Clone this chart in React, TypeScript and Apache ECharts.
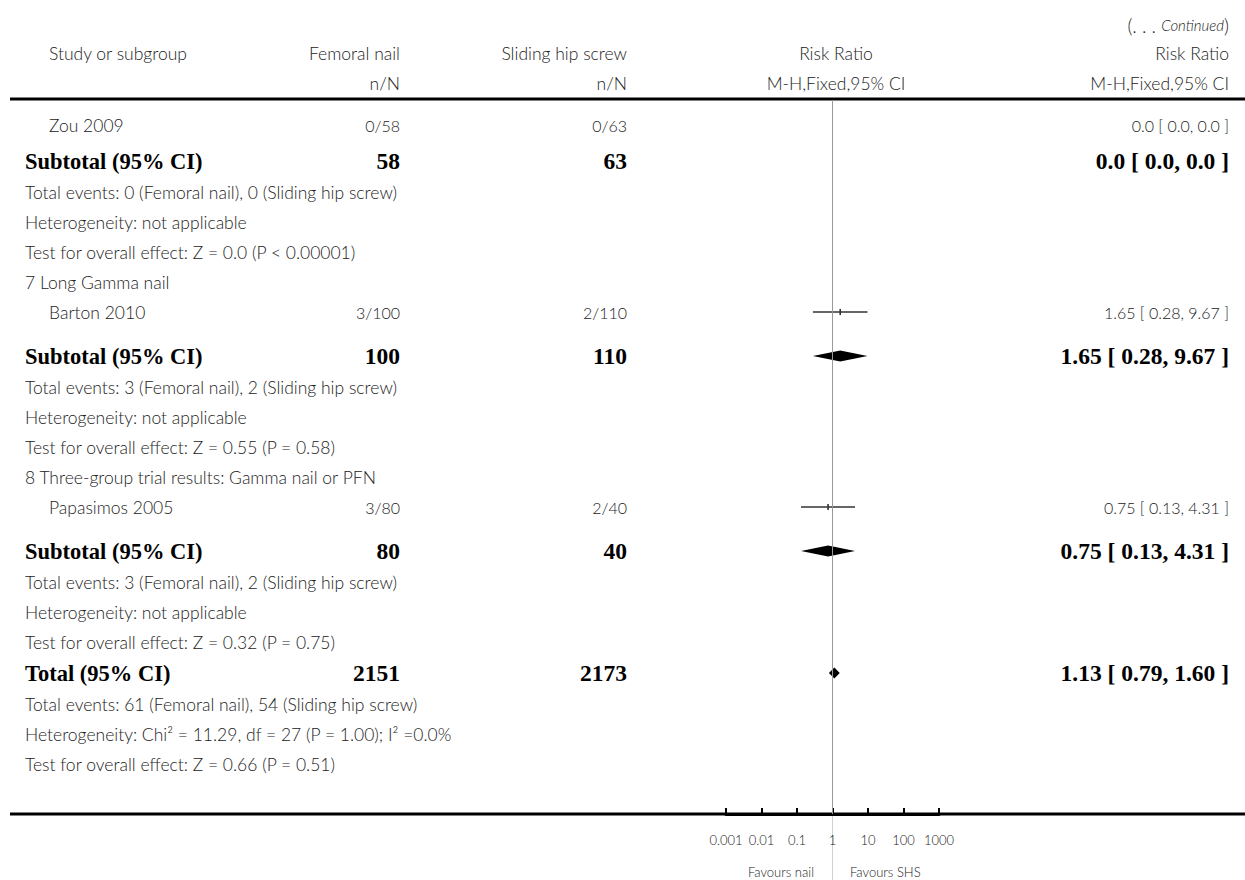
import React, { useEffect, useRef } from "react";
import * as echarts from "echarts";

// ---------- data ----------
const headerTop = ["Study or subgroup", "Femoral nail", "Sliding hip screw", "Risk Ratio", "Risk Ratio"];
const headerSub = ["", "n/N", "n/N", "M-H,Fixed,95% CI", "M-H,Fixed,95% CI"];
const continuedWord = "Continued";

const rowKinds = [
  "study", "subtotal", "info", "info", "info",
  "group", "study", "subtotal", "info", "info", "info",
  "group", "study", "subtotal", "info", "info", "info",
  "total", "info", "info", "info",
];
const rowLabels = [
  "Zou 2009",
  "Subtotal (95% CI)",
  "Total events: 0 (Femoral nail), 0 (Sliding hip screw)",
  "Heterogeneity: not applicable",
  "Test for overall effect: Z = 0.0 (P < 0.00001)",
  "7 Long Gamma nail",
  "Barton 2010",
  "Subtotal (95% CI)",
  "Total events: 3 (Femoral nail), 2 (Sliding hip screw)",
  "Heterogeneity: not applicable",
  "Test for overall effect: Z = 0.55 (P = 0.58)",
  "8 Three-group trial results: Gamma nail or PFN",
  "Papasimos 2005",
  "Subtotal (95% CI)",
  "Total events: 3 (Femoral nail), 2 (Sliding hip screw)",
  "Heterogeneity: not applicable",
  "Test for overall effect: Z = 0.32 (P = 0.75)",
  "Total (95% CI)",
  "Total events: 61 (Femoral nail), 54 (Sliding hip screw)",
  "Heterogeneity: Chi² = 11.29, df = 27 (P = 1.00); I² =0.0%",
  "Test for overall effect: Z = 0.66 (P = 0.51)",
];
const rowNail = ["0/58", "58", "", "", "", "", "3/100", "100", "", "", "", "", "3/80", "80", "", "", "", "2151", "", "", ""];
const rowShs = ["0/63", "63", "", "", "", "", "2/110", "110", "", "", "", "", "2/40", "40", "", "", "", "2173", "", "", ""];
const rowResult = [
  "0.0 [ 0.0, 0.0 ]", "0.0 [ 0.0, 0.0 ]", "", "", "",
  "", "1.65 [ 0.28, 9.67 ]", "1.65 [ 0.28, 9.67 ]", "", "", "",
  "", "0.75 [ 0.13, 4.31 ]", "0.75 [ 0.13, 4.31 ]", "", "", "",
  "1.13 [ 0.79, 1.60 ]", "", "", "",
];
// plotted estimates (null = not estimable / not plotted)
const rowRR: (number | null)[] = [null, null, null, null, null, null, 1.65, 1.65, null, null, null, null, 0.75, 0.75, null, null, null, 1.13, null, null, null];
const rowLo: (number | null)[] = [null, null, null, null, null, null, 0.28, 0.28, null, null, null, null, 0.13, 0.13, null, null, null, 0.79, null, null, null];
const rowHi: (number | null)[] = [null, null, null, null, null, null, 9.67, 9.67, null, null, null, null, 4.31, 4.31, null, null, null, 1.60, null, null, null];

const tickLabels = ["0.001", "0.01", "0.1", "1", "10", "100", "1000"];
const favoursLeft = "Favours nail";
const favoursRight = "Favours SHS";

// ---------- layout ----------
const W = 1245;
const H = 880;
const SANS = "Lato, 'Noto Sans', sans-serif";
const SERIF = "'Liberation Serif', 'DejaVu Serif', serif";
const X_LABEL = 25;
const X_INDENT = 49;
const X_NAIL = 400;
const X_SHS = 627;
const X_MID = 836;
const X_RES = 1229;
const AXIS_Y = 814;
const TOP_Y = 100;
const PLOT_L = 726;
const PLOT_R = 939;
const FS_TEXT = 17.5;
const FS_NUM = 16;
const FS_BOLD_LABEL = 22.5;
const FS_BOLD_NUM = 23.5;

function rowPositions(): number[] {
  const ys: number[] = [];
  let y = 125;
  for (let i = 0; i < rowKinds.length; i++) {
    const k = rowKinds[i];
    const prev = i > 0 ? rowKinds[i - 1] : "";
    if (i > 0) {
      let gap = 30;
      if (k === "subtotal") gap = rowRR[i - 1] != null ? 44 : 36;
      else if (k === "info" && (prev === "subtotal" || prev === "total")) gap = 31;
      else if (k === "total") gap = 31;
      y += gap;
    }
    ys.push(y);
  }
  return ys;
}

function normalText(text: string, x: number, y: number, align: string, size = FS_TEXT) {
  return {
    type: "text",
    x,
    y,
    silent: true,
    style: {
      text,
      fill: "#222",
      fontFamily: SANS,
      fontWeight: 300,
      fontSize: size,
      align,
      verticalAlign: "middle",
    },
  };
}
function boldText(text: string, x: number, y: number, align: string, size: number) {
  return {
    type: "text",
    x,
    y,
    silent: true,
    style: {
      text,
      fill: "#000",
      fontFamily: SERIF,
      fontWeight: "bold",
      fontSize: size,
      align,
      verticalAlign: "middle",
    },
  };
}

function buildOption() {
  const ys = rowPositions();
  const graphics: any[] = [];

  // continued note
  graphics.push({
    type: "text",
    x: X_RES,
    y: 25,
    silent: true,
    style: {
      text: "{a|(. . . }{i|" + continuedWord + "}{a|)}",
      align: "right",
      verticalAlign: "middle",
      rich: {
        a: { fontFamily: SANS, fontSize: 19, fontWeight: 300, fill: "#222" },
        i: { fontFamily: SANS, fontSize: 15, fontStyle: "italic", fontWeight: 300, fill: "#222" },
      },
    },
  });

  // headers
  const hy1 = 53;
  const hy2 = 83;
  graphics.push(normalText(headerTop[0], X_INDENT, hy1, "left"));
  graphics.push(normalText(headerTop[1], X_NAIL, hy1, "right"));
  graphics.push(normalText(headerTop[2], X_SHS, hy1, "right"));
  graphics.push(normalText(headerTop[3], X_MID, hy1, "center"));
  graphics.push(normalText(headerTop[4], X_RES, hy1, "right"));
  graphics.push(normalText(headerSub[1], X_NAIL, hy2, "right"));
  graphics.push(normalText(headerSub[2], X_SHS, hy2, "right"));
  graphics.push(normalText(headerSub[3], X_MID, hy2, "center"));
  graphics.push(normalText(headerSub[4], X_RES, hy2, "right"));

  // rules
  graphics.push({
    type: "line",
    silent: true,
    shape: { x1: 10, y1: 99, x2: W, y2: 99 },
    style: { stroke: "#000", lineWidth: 3 },
  });
  graphics.push({
    type: "line",
    silent: true,
    shape: { x1: 10, y1: AXIS_Y, x2: W, y2: AXIS_Y },
    style: { stroke: "#000", lineWidth: 3 },
  });
  graphics.push({
    type: "line",
    silent: true,
    shape: { x1: 832.5, y1: AXIS_Y + 2, x2: 832.5, y2: H },
    style: { stroke: "#d0d0d0", lineWidth: 1 },
  });
  graphics.push(normalText(favoursLeft, 814, 872, "right", 13));
  graphics.push(normalText(favoursRight, 850, 872, "left", 13));

  // rows
  rowKinds.forEach((k, i) => {
    const y = ys[i];
    if (k === "subtotal" || k === "total") {
      graphics.push(boldText(rowLabels[i], X_LABEL, y, "left", FS_BOLD_LABEL));
      graphics.push(boldText(rowNail[i], X_NAIL, y, "right", FS_BOLD_NUM));
      graphics.push(boldText(rowShs[i], X_SHS, y, "right", FS_BOLD_NUM));
      graphics.push(boldText(rowResult[i], X_RES, y, "right", FS_BOLD_NUM));
    } else if (k === "study") {
      graphics.push(normalText(rowLabels[i], X_INDENT, y, "left"));
      graphics.push(normalText(rowNail[i], X_NAIL, y, "right", FS_NUM));
      graphics.push(normalText(rowShs[i], X_SHS, y, "right", FS_NUM));
      graphics.push(normalText(rowResult[i], X_RES, y, "right", FS_NUM));
    } else {
      graphics.push(normalText(rowLabels[i], X_LABEL, y, "left"));
    }
  });

  // plotted marks data: [log rr, y, log lo, log hi, kind(0 study, 1 diamond)]
  const marks: number[][] = [];
  rowKinds.forEach((k, i) => {
    const rr = rowRR[i];
    const lo = rowLo[i];
    const hi = rowHi[i];
    if (rr == null || lo == null || hi == null) return;
    marks.push([Math.log10(rr), ys[i], Math.log10(lo), Math.log10(hi), k === "study" ? 0 : 1]);
  });

  return {
    animation: false,
    backgroundColor: "#fff",
    grid: {
      left: PLOT_L,
      right: W - PLOT_R,
      top: TOP_Y,
      bottom: H - AXIS_Y,
      containLabel: false,
      outerBoundsMode: "none",
    },
    xAxis: {
      type: "value",
      min: -3,
      max: 3,
      interval: 1,
      axisLine: { show: true, lineStyle: { color: "#000", width: 3 } },
      axisTick: { show: true, inside: true, length: 6, lineStyle: { color: "#000", width: 2 } },
      splitLine: { show: false },
      axisLabel: {
        show: true,
        margin: 19,
        color: "#222",
        fontFamily: SANS,
        fontWeight: 300,
        fontSize: 13,
        formatter: (v: number) => tickLabels[Math.round(v) + 3] ?? "",
      },
    },
    yAxis: {
      type: "value",
      min: TOP_Y,
      max: AXIS_Y,
      inverse: true,
      show: false,
    },
    series: [
      {
        type: "custom",
        clip: false,
        silent: true,
        data: marks,
        renderItem: (params: any, api: any) => {
          const c = api.coord([api.value(0), api.value(1)]);
          const l = api.coord([api.value(2), api.value(1)]);
          const h = api.coord([api.value(3), api.value(1)]);
          if (api.value(4) === 0) {
            return {
              type: "group",
              children: [
                {
                  type: "line",
                  shape: { x1: l[0], y1: c[1], x2: h[0], y2: c[1] },
                  style: { stroke: "#333", lineWidth: 1.5 },
                },
                {
                  type: "rect",
                  shape: { x: c[0] - 0.8, y: c[1] - 3, width: 1.6, height: 6 },
                  style: { fill: "#333" },
                },
              ],
            };
          }
          return {
            type: "polygon",
            shape: {
              points: [
                [l[0], c[1]],
                [c[0], c[1] - 5.5],
                [h[0], c[1]],
                [c[0], c[1] + 5.5],
              ],
            },
            style: { fill: "#000" },
          };
        },
        markLine: {
          silent: true,
          symbol: "none",
          label: { show: false },
          lineStyle: { color: "#999", width: 1, type: "solid" },
          data: [{ xAxis: 0 }],
        },
      },
    ],
    graphic: graphics,
  };
}

export default function App() {
  const ref = useRef<HTMLDivElement>(null);
  useEffect(() => {
    document.body.style.margin = "0";
    if (!ref.current) return;
    const chart = echarts.init(ref.current, undefined, { renderer: "svg" });
    chart.setOption(buildOption() as any);
    return () => chart.dispose();
  }, []);
  return <div ref={ref} style={{ width: W, height: H, background: "#fff" }} />;
}
